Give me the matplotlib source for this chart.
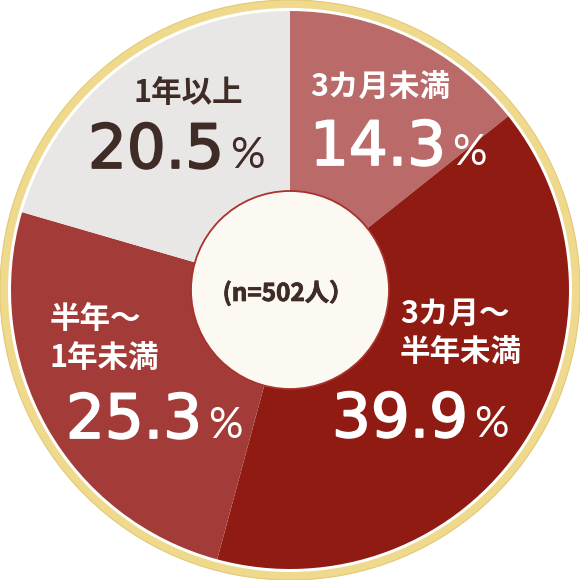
import matplotlib
matplotlib.use("Agg")
import matplotlib.pyplot as plt
from matplotlib.patches import Circle
import matplotlib.patheffects as pe

# ---- data ----
categories = ["3カ月未満", "3カ月〜\n半年未満", "半年〜\n1年未満", "1年以上"]
values = [14.3, 39.9, 25.3, 20.5]
value_labels = ["14.3", "39.9", "25.3", "20.5"]
sample_note = "(n=502人）"

# ---- style ----
colors = ["#b96a69", "#8f1b13", "#a33c38", "#e9e7e6"]
text_colors = ["white", "white", "white", "#3f2c27"]
W = 580
cx, cy = 290, 290

fig = plt.figure(figsize=(5.8, 5.8), dpi=100)
ax = fig.add_axes([0, 0, 1, 1])
ax.set_xlim(0, W)
ax.set_ylim(0, W)
ax.set_aspect("equal")
ax.axis("off")

# outer gold ring
ax.add_patch(Circle((cx, cy), 290, facecolor="#eed98c", edgecolor="#e3c976", lw=0.8, zorder=0))
ax.add_patch(Circle((cx, cy), 282, facecolor="white", edgecolor="none", zorder=0.5))

ax.pie(values, colors=colors, startangle=90, counterclock=False,
       center=(cx, cy), radius=279, wedgeprops=dict(linewidth=0, edgecolor="none"))
ax.set_xlim(0, W)
ax.set_ylim(0, W)

cjk = ["Noto Sans CJK JP", "DejaVu Sans"]

# center circle
ax.add_patch(Circle((cx, cy), 99, facecolor="#fcf9f2", edgecolor="#a8322e", lw=1.3, zorder=5))
ax.text(cx - 2, W - 293, sample_note, ha="center", va="center", fontsize=17.5,
        fontweight="bold", color="#3f2c27", family=cjk, zorder=6,
        path_effects=[pe.withStroke(linewidth=0.6, foreground="#3f2c27")])

# label layout (pixel coords from top-left): x, center-y of each line
label_layout = [
    (310, [88]),
    (400, [314, 352]),
    (50, [319, 358]),
    (133, [93]),
]
num_layout = [(310, 165), (332, 437), (66, 438), (88, 168)]

for i, cat in enumerate(categories):
    lx, lys = label_layout[i]
    for line, ly in zip(cat.split("\n"), lys):
        ax.text(lx, W - ly, line, ha="left", va="center", fontsize=22,
                fontweight="bold", color=text_colors[i], family=cjk, zorder=6)

fig.canvas.draw()
r = fig.canvas.get_renderer()
for i, vl in enumerate(value_labels):
    nx, ny = num_layout[i]
    t = ax.text(nx, W - ny, vl, ha="left", va="baseline", fontsize=44,
                fontweight="normal", color=text_colors[i], family="DejaVu Sans", zorder=6,
                path_effects=[pe.withStroke(linewidth=1.3, foreground=text_colors[i])])
    bb = t.get_window_extent(renderer=r)
    right = ax.transData.inverted().transform((bb.x1, bb.y0))[0]
    ax.text(right + 6, W - ny, "%", ha="left", va="baseline", fontsize=31,
            fontweight="normal", color=text_colors[i], family="Lato", zorder=6)

fig.savefig("out.png", dpi=100)
